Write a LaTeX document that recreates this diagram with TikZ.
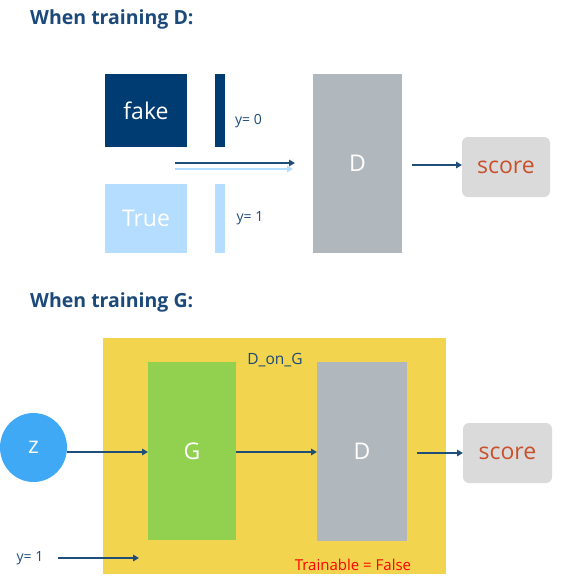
\documentclass[tikz,border=0pt]{standalone}
\usepackage{fontspec}
\setmainfont{Open Sans}
\usetikzlibrary{arrows.meta,shapes.geometric}
\definecolor{navy}{HTML}{003C71}
\definecolor{titleblue}{HTML}{1B4A7A}
\definecolor{lightblue}{HTML}{B4DDFF}
\definecolor{dgray}{HTML}{B1B8BD}
\definecolor{sgray}{HTML}{DADADA}
\definecolor{sorange}{HTML}{C9502A}
\definecolor{ybg}{HTML}{F2D44E}
\definecolor{ggreen}{HTML}{92D050}
\definecolor{zblue}{HTML}{3FA9F5}
\definecolor{arrowblue}{HTML}{1F4E79}
\tikzset{
  box/.style={draw=none, inner sep=0pt, outer sep=0pt},
  conn/.style={draw=arrowblue, line width=1.8pt, -{Triangle[length=6pt,width=6.5pt]}},
  title/.style={font=\fontsize{19.5}{22}\selectfont\bfseries, text=titleblue, anchor=west, inner sep=0pt},
  small/.style={font=\fontsize{14}{16}\selectfont, text=titleblue, inner sep=0pt},
  big/.style={font=\fontsize{23}{26}\selectfont, text=white},
  scoretxt/.style={font=\fontsize{23}{26}\selectfont, text=sorange}
}
\begin{document}
\begin{tikzpicture}[x=1pt,y=-1pt]
\useasboundingbox (0,0) rectangle (566,582);
% ---- training D ----
\node[title] (t1) at (30,19) {When training D:};
\fill[navy] (105,74) rectangle (187,147);
\node[big] (fake) at (146,110.5) {fake};
\fill[navy] (215,74) rectangle (225,147);
\node[small] (y0) at (248.5,121) {y= 0};
\fill[lightblue] (105,184) rectangle (187,253);
\node[big] (true) at (146,218.5) {True};
\fill[lightblue] (215,184) rectangle (225,253);
\node[small] (y1a) at (250,218) {y= 1};
\fill[dgray] (313,74) rectangle (402,253);
\node[big] (D1) at (357.5,163.5) {D};
\coordinate (a1s) at (175,163);
\coordinate (a1e) at (295,163);
\coordinate (a2s) at (175,169);
\coordinate (a2e) at (293,169);
\draw[draw=lightblue, line width=1.8pt, -{Triangle[length=6pt,width=6.5pt]}] (a2s) -- (a2e);
\draw[conn] (a1s) -- (a1e);
\node[box, fill=sgray, rounded corners=6pt, minimum width=88pt, minimum height=60pt] (score1) at (506,167) {};
\node[scoretxt] at (score1) {score};
\coordinate (d1r) at (412,165);
\draw[conn] (d1r) -- (d1r -| score1.west);
% ---- training G ----
\node[title] (t2) at (30,302.5) {When training G:};
\fill[ybg] (103,338) rectangle (446,574);
\node[small, font=\fontsize{15.5}{17}\selectfont] (dong) at (275,360) {D\_on\_G};
\node[box, fill=ggreen, minimum width=88pt, minimum height=178pt] (G) at (192,451) {};
\node[big] at (G) {G};
\node[box, fill=dgray, minimum width=90pt, minimum height=179pt] (D2) at (362,451.5) {};
\node[big] at (D2) {D};
\node[box, fill=zblue, ellipse, minimum width=67pt, minimum height=69pt] (z) at (33.5,447.5) {};
\node[big] at (z) {z};
\node[box, fill=sgray, rounded corners=6pt, minimum width=89pt, minimum height=60pt] (score2) at (507.5,453) {};
\node[scoretxt] at (score2) {score};
\draw[conn] (z.east |- 0,452) -- (G.west |- 0,452);
\draw[conn] (G.east |- 0,452) -- (D2.west |- 0,452);
\coordinate (d2r) at (417,453);
\draw[conn] (d2r) -- (d2r -| score2.west);
\node[small] (y1b) at (30,558) {y= 1};
\coordinate (ys) at (58,558);
\coordinate (ye) at (139,558);
\draw[conn] (ys) -- (ye);
\node[font=\fontsize{15}{17}\selectfont, text=red, inner sep=0pt] (tf) at (353,565) {Trainable = False};
\end{tikzpicture}
\end{document}
